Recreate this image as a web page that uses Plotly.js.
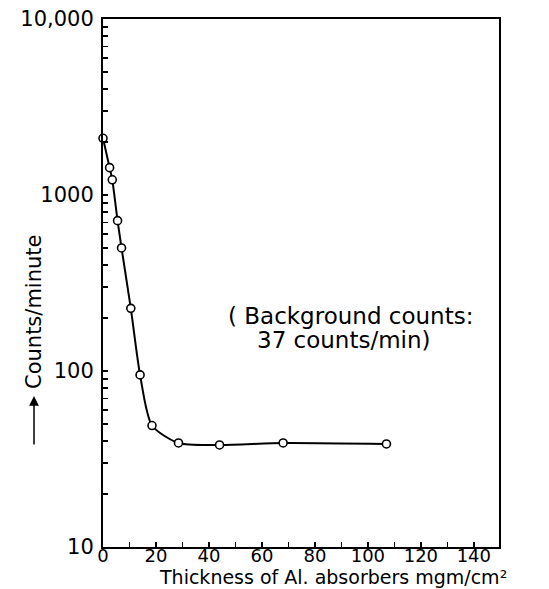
<!DOCTYPE html>
<html>
<head>
<meta charset="utf-8">
<script src="https://cdn.plot.ly/plotly-3.0.1.min.js"></script>
<style>html,body{margin:0;padding:0;background:#fff;}#chart{width:549px;height:589px;}</style>
</head>
<body>
<div id="chart"></div>
<script>
// Absorber thickness (mgm/cm^2) and measured counts per minute
const thickness = [0, 2.5, 3.5, 5.5, 7, 10.5, 14, 18.5, 28.5, 44, 68, 107];
const counts = [2100, 1430, 1220, 715, 500, 227, 95, 49, 39, 38, 39, 38.5];
const xTickVals = [0, 20, 40, 60, 80, 100, 120, 140];
const yTickVals = [10, 100, 1000, 10000];
const yTickText = ["10", "100", "1000", "10,000"];

const FONT = "DejaVu Sans, sans-serif";
const L = 103, R = 50, T = 19, B = 42, W = 549, H = 589;
const pw = W - L - R, ph = H - T - B;
const px = x => (x - L) / pw;
const py = y => (H - B - y) / ph;

const trace = {
  x: thickness, y: counts, type: 'scatter', mode: 'lines+markers',
  line: {color: '#000', width: 2, shape: 'spline', smoothing: 0.7},
  marker: {symbol: 'circle', size: 8, color: '#fff', line: {color: '#000', width: 1.6}},
  cliponaxis: false, hoverinfo: 'none'
};

const layout = {
  width: W, height: H,
  margin: {l: L, r: R, t: T, b: B},
  paper_bgcolor: '#fff', plot_bgcolor: '#fff',
  showlegend: false,
  font: {family: FONT, color: '#000'},
  xaxis: {
    range: [0, 149.5], tickvals: xTickVals, ticks: 'inside', ticklen: 5, tickwidth: 1.5, tickcolor: '#000',
    minor: {dtick: 10, tick0: 0, ticks: 'inside', ticklen: 5, tickwidth: 1.5, tickcolor: '#000'},
    showline: true, linewidth: 2, linecolor: '#000', mirror: true,
    showgrid: false, zeroline: false, ticklabelstandoff: -9,
    tickfont: {family: FONT, size: 18, color: '#000'}
  },
  yaxis: {
    type: 'log', range: [1, 4], tickvals: yTickVals, ticktext: yTickText,
    ticks: 'inside', ticklen: 5, tickwidth: 1.5, tickcolor: '#000',
    minor: {ticks: 'inside', ticklen: 5, tickwidth: 1.2, tickcolor: '#000', dtick: 'D1', showgrid: false},
    showline: true, linewidth: 2, linecolor: '#000', mirror: true,
    showgrid: false, zeroline: false, ticklabelstandoff: 3,
    tickfont: {family: FONT, size: 21, color: '#000'}
  },
  annotations: [
    {xref: 'paper', yref: 'paper', x: px(350), y: py(316), text: '( Background counts:',
     showarrow: false, font: {family: FONT, size: 23, color: '#000'}, xanchor: 'center', yanchor: 'middle'},
    {xref: 'paper', yref: 'paper', x: px(344), y: py(340), text: '37 counts/min)',
     showarrow: false, font: {family: FONT, size: 23, color: '#000'}, xanchor: 'center', yanchor: 'middle'},
    {xref: 'paper', yref: 'paper', x: px(333), y: py(577), text: 'Thickness of Al. absorbers mgm/cm²',
     showarrow: false, font: {family: FONT, size: 19, color: '#000'}, xanchor: 'center', yanchor: 'middle'},
    {xref: 'paper', yref: 'paper', x: px(34), y: py(312), text: 'Counts/minute', textangle: -90,
     showarrow: false, font: {family: FONT, size: 21, color: '#000'}, xanchor: 'center', yanchor: 'middle'},
    {xref: 'paper', yref: 'paper', x: px(34), y: py(396), ax: 0, ay: 50, text: '',
     showarrow: true, arrowhead: 2, arrowsize: 1.3, arrowwidth: 1.5, arrowcolor: '#000'}
  ]
};

Plotly.newPlot('chart', [trace], layout, {displayModeBar: false, staticPlot: true});
</script>
</body>
</html>
